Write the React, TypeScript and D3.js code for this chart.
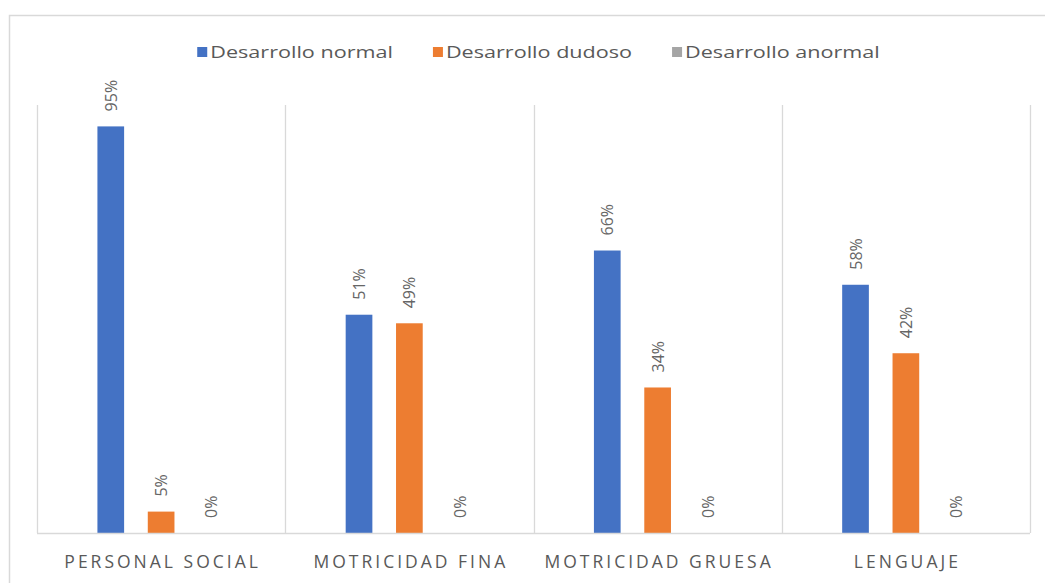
import React, { useEffect, useRef } from "react";
import * as d3 from "d3";

const categories = ["PERSONAL SOCIAL", "MOTRICIDAD FINA", "MOTRICIDAD GRUESA", "LENGUAJE"];
const seriesNames = ["Desarrollo normal", "Desarrollo dudoso", "Desarrollo anormal"];
const seriesColors = ["#4472C4", "#ED7D31", "#A5A5A5"];
const normal = [0.95, 0.51, 0.66, 0.58];
const dudoso = [0.05, 0.49, 0.34, 0.42];
const anormal = [0, 0, 0, 0];

const WIDTH = 1045;
const HEIGHT = 583;
const FONT = "'Open Sans', 'Noto Sans', sans-serif";
const TEXT_GRAY = "#595959";
const GRID = "#D9D9D9";

export default function App() {
  const svgRef = useRef<SVGSVGElement>(null);

  useEffect(() => {
    if (!svgRef.current) return;
    const svg = d3.select(svgRef.current);
    svg.selectAll("*").remove();

    const values = [normal, dudoso, anormal];
    const margin = { top: 105, right: 15, bottom: 50, left: 37 };
    const plotRight = WIDTH - margin.right;
    const baseline = HEIGHT - margin.bottom;

    svg.append("rect").attr("width", WIDTH).attr("height", HEIGHT).attr("fill", "#fff");

    // outer chart border (top + left, right/bottom run off the picture)
    svg
      .append("path")
      .attr("d", `M9.5,${HEIGHT + 2}V15.5H${WIDTH + 2}`)
      .attr("fill", "none")
      .attr("stroke", GRID)
      .attr("stroke-width", 1.5);

    const x0 = d3.scaleBand<string>().domain(categories).range([margin.left, plotRight]);
    const x1 = d3
      .scaleBand<string>()
      .domain(seriesNames)
      .range([0, x0.bandwidth()])
      .paddingInner(0.47)
      .paddingOuter(1.2);
    const y = d3.scaleLinear().domain([0, 1]).range([baseline, margin.top]);

    // category separators
    const seps = [...categories.map((c) => x0(c)!), plotRight];
    svg
      .selectAll("line.sep")
      .data(seps)
      .enter()
      .append("line")
      .attr("x1", (d) => Math.round(d) + 0.5)
      .attr("x2", (d) => Math.round(d) + 0.5)
      .attr("y1", y(1))
      .attr("y2", baseline)
      .attr("stroke", GRID)
      .attr("stroke-width", 1.3);

    // bars
    const bars = categories.flatMap((c, ci) =>
      seriesNames.map((s, si) => ({ c, s, si, v: values[si][ci] }))
    );
    svg
      .selectAll("rect.bar")
      .data(bars)
      .enter()
      .append("rect")
      .attr("x", (d) => x0(d.c)! + x1(d.s)!)
      .attr("y", (d) => y(d.v))
      .attr("width", x1.bandwidth())
      .attr("height", (d) => baseline - y(d.v))
      .attr("fill", (d) => seriesColors[d.si]);

    // baseline
    svg
      .append("line")
      .attr("x1", margin.left)
      .attr("x2", plotRight)
      .attr("y1", baseline + 0.5)
      .attr("y2", baseline + 0.5)
      .attr("stroke", GRID)
      .attr("stroke-width", 1.3);

    // rotated data labels
    svg
      .selectAll("text.val")
      .data(bars)
      .enter()
      .append("text")
      .attr(
        "transform",
        (d) => `translate(${x0(d.c)! + x1(d.s)! + x1.bandwidth() / 2 + 6},${y(d.v) - 15}) rotate(-90)`
      )
      .attr("font-family", FONT)
      .attr("font-size", 16)
      .attr("fill", "#666")
      .text((d) => `${Math.round(d.v * 100)}%`);

    // category labels
    svg
      .selectAll("text.cat")
      .data(categories)
      .enter()
      .append("text")
      .attr("x", (d) => x0(d)! + x0.bandwidth() / 2 + 1.5)
      .attr("y", baseline + 35)
      .attr("text-anchor", "middle")
      .attr("font-family", FONT)
      .attr("font-size", 17.5)
      .attr("letter-spacing", 3)
      .attr("fill", TEXT_GRAY)
      .text((d) => d);

    // legend
    const stretch = 1.27;
    const gap = 40;
    const legend = svg.append("g");
    let cursor = 0;
    seriesNames.forEach((name, i) => {
      const item = legend.append("g").attr("transform", `translate(${cursor},0)`);
      item.append("rect").attr("x", 0).attr("y", -10).attr("width", 10).attr("height", 10).attr("fill", seriesColors[i]);
      const t = item
        .append("text")
        .attr("x", 13)
        .attr("y", 0.5)
        .attr("font-family", FONT)
        .attr("font-size", 17)
        .attr("fill", TEXT_GRAY)
        .text(name);
      const w = (t.node() as SVGTextElement).getComputedTextLength() * stretch;
      t.attr("textLength", w).attr("lengthAdjust", "spacingAndGlyphs");
      cursor += 13 + w + gap;
    });
    const total = cursor - gap;
    legend.attr("transform", `translate(${(margin.left + plotRight) / 2 + 5 - total / 2},57)`);
  }, []);

  return (
    <svg
      ref={svgRef}
      width={WIDTH}
      height={HEIGHT}
      style={{ position: "absolute", left: 0, top: 0, display: "block" }}
    />
  );
}
